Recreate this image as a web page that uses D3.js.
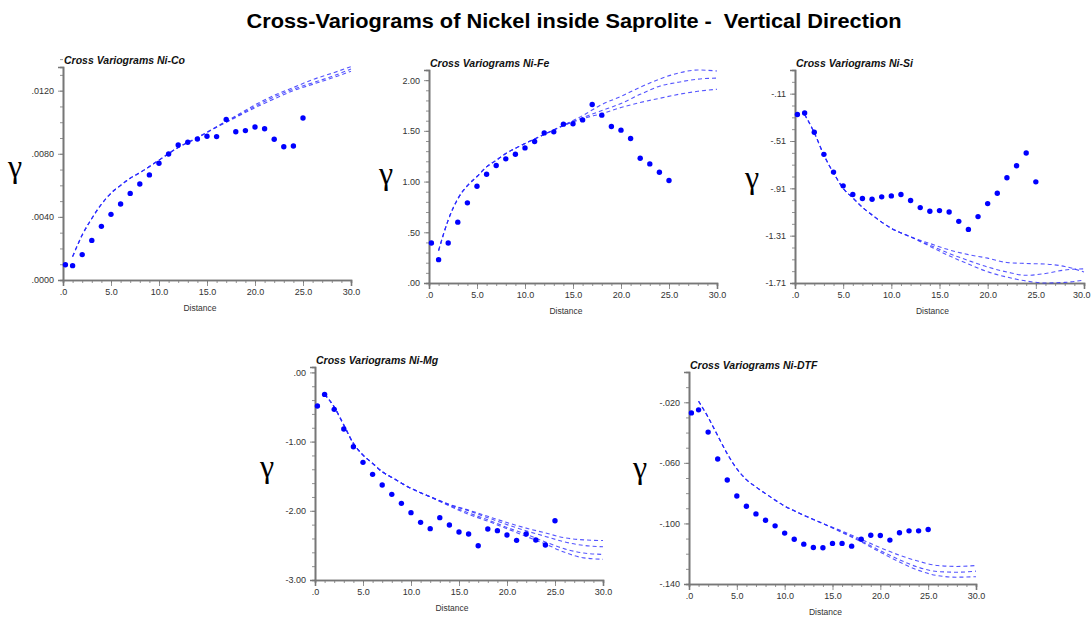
<!DOCTYPE html>
<html>
<head>
<meta charset="utf-8">
<script src="https://cdn.jsdelivr.net/npm/d3@7"></script>
<style>
  body { margin: 0; background: #fff; }
  svg { display: block; }
  text { font-family: "Liberation Sans", Arial, sans-serif; }
</style>
</head>
<body>
<script>
// lag distances of the experimental points (same for every panel)
var lags = [0.25, 1, 2, 3, 4, 5, 6, 7, 8, 9, 10, 11, 12, 13, 14, 15, 16, 17, 18, 19, 20, 21, 22, 23, 24, 25];

// experimental cross variogram values
var coPts = [.00097, .00091, .00161, .00251, .0034, .00416, .00482, .00549, .00608, .00666, .0074, .00799, .00856, .00873, .00894, .00911, .00909, .01018, .0094, .00947, .0097, .00959, .00892, .00845, .00849, .01027];
var fePts = [.395, .23, .395, .60, .79, .954, 1.072, 1.158, 1.224, 1.27, 1.332, 1.395, 1.48, 1.49, 1.566, 1.57, 1.608, 1.76, 1.655, 1.543, 1.507, 1.424, 1.23, 1.174, 1.092, 1.01];
var siPts = [-.286, -.274, -.436, -.623, -.773, -.889, -.962, -.996, -1.002, -.982, -.974, -.962, -1.013, -1.073, -1.104, -1.098, -1.11, -1.189, -1.257, -1.149, -1.039, -.951, -.821, -.719, -.611, -.855];
var mgPts = [-.486, -.318, -.534, -.818, -1.074, -1.30, -1.473, -1.627, -1.762, -1.892, -2.027, -2.167, -2.258, -2.099, -2.205, -2.306, -2.335, -2.504, -2.263, -2.287, -2.35, -2.427, -2.335, -2.422, -2.494, -2.143];
var dtfPts = [-.0270, -.0250, -.0397, -.0575, -.0713, -.0819, -.0887, -.0937, -.0979, -.1016, -.1064, -.1104, -.1137, -.1159, -.1161, -.1132, -.1132, -.115, -.1104, -.1078, -.108, -.111, -.1062, -.1049, -.1049, -.104];

// distances at which the model curves were read
var modelX = [1, 2, 3, 4, 5, 6, 7, 8, 10, 12, 14, 16, 18, 20, 22, 24, 26, 28, 30];

var coModels = [
  [.00148, .00285, .0039, .0048, .0055, .0060, .00645, .0068, .0076, .0084, .00904, .00972, .0104, .0111, .0117, .0122, .0127, .0131, .01352],
  [.00148, .00285, .0039, .0048, .0055, .0060, .00645, .0068, .0076, .0084, .00902, .0097, .01035, .0110, .0116, .0121, .0125, .0129, .01338],
  [.00148, .00285, .0039, .0048, .0055, .0060, .00645, .0068, .0076, .0084, .00900, .00968, .0103, .01092, .01148, .0120, .0124, .0128, .01323]
];
var feModels = [
  [.32, .62, .83, .96, 1.05, 1.145, 1.21, 1.276, 1.375, 1.464, 1.556, 1.65, 1.76, 1.84, 1.93, 2.01, 2.07, 2.10, 2.09],
  [.32, .62, .83, .96, 1.05, 1.145, 1.21, 1.276, 1.375, 1.464, 1.553, 1.63, 1.70, 1.77, 1.86, 1.94, 1.98, 2.01, 2.02],
  [.32, .62, .83, .96, 1.05, 1.145, 1.21, 1.276, 1.375, 1.464, 1.55, 1.62, 1.67, 1.73, 1.78, 1.82, 1.86, 1.89, 1.91]
];
var siModels = [
  [-.286, -.44, -.63, -.78, -.91, -.99, -1.07, -1.135, -1.248, -1.32, -1.376, -1.43, -1.47, -1.50, -1.537, -1.545, -1.55, -1.57, -1.617],
  [-.286, -.44, -.63, -.78, -.91, -.99, -1.07, -1.135, -1.248, -1.32, -1.39, -1.46, -1.52, -1.575, -1.617, -1.645, -1.63, -1.60, -1.59],
  [-.286, -.44, -.63, -.78, -.91, -.99, -1.07, -1.135, -1.248, -1.32, -1.40, -1.48, -1.55, -1.615, -1.66, -1.693, -1.71, -1.705, -1.685]
];
var mgModels = [
  [-.318, -.50, -.76, -1.026, -1.194, -1.314, -1.435, -1.517, -1.676, -1.796, -1.907, -1.99, -2.08, -2.17, -2.25, -2.32, -2.39, -2.42, -2.43],
  [-.318, -.50, -.76, -1.026, -1.194, -1.314, -1.435, -1.517, -1.676, -1.796, -1.91, -2.00, -2.10, -2.20, -2.29, -2.37, -2.45, -2.50, -2.52],
  [-.318, -.50, -.76, -1.026, -1.194, -1.314, -1.435, -1.517, -1.676, -1.80, -1.92, -2.03, -2.13, -2.24, -2.34, -2.45, -2.55, -2.61, -2.63],
  [-.318, -.50, -.76, -1.026, -1.194, -1.314, -1.435, -1.517, -1.676, -1.80, -1.93, -2.05, -2.15, -2.26, -2.37, -2.48, -2.60, -2.68, -2.70]
];
var dtfModels = [
  [-.0193, -.0299, -.042, -.054, -.0639, -.0711, -.0759, -.0803, -.0885, -.0946, -.1001, -.1050, -.1105, -.1160, -.1210, -.1250, -.1278, -.1284, -.1278],
  [-.0193, -.0299, -.042, -.054, -.0639, -.0711, -.0759, -.0803, -.0885, -.0946, -.1001, -.1056, -.1115, -.1180, -.1240, -.1290, -.1318, -.1322, -.1315],
  [-.0193, -.0299, -.042, -.054, -.0639, -.0711, -.0759, -.0803, -.0885, -.0946, -.1001, -.1060, -.1122, -.1190, -.1255, -.1310, -.1345, -.1355, -.1352]
];

// axis ticks
var xTicks = [0, 5, 10, 15, 20, 25, 30];
var coTicks = [0, .004, .008, .012];
var feTicks = [0, .5, 1, 1.5, 2];
var siTicks = [-1.71, -1.31, -.91, -.51, -.11];
var mgTicks = [-3, -2, -1, 0];
var dtfTicks = [-.14, -.10, -.06, -.02];

var titles = ["Cross Variograms Ni-Co", "Cross Variograms Ni-Fe", "Cross Variograms Ni-Si", "Cross Variograms Ni-Mg", "Cross Variograms Ni-DTF"];

var W = 1091, H = 618;

var svg = d3.select("body").append("svg")
  .attr("width", W)
  .attr("height", H);

svg.append("text")
  .attr("x", 574)
  .attr("y", 28)
  .attr("text-anchor", "middle")
  .attr("font-size", "20px")
  .attr("font-weight", "bold")
  .attr("textLength", 655)
  .attr("lengthAdjust", "spacingAndGlyphs")
  .style("white-space", "pre")
  .attr("fill", "#000")
  .text("Cross-Variograms of Nickel inside Saprolite -  Vertical Direction");

// strip leading zero: 0.50 -> .50, -0.11 -> -.11
function fmt(dec){
  return function(d){
    var s = Math.abs(d).toFixed(dec).replace(/^0/, "");
    return (d < 0 ? "-" : "") + s;
  };
}

var panels = [
  {title: titles[0], pts: coPts, models: coModels, ticks: coTicks, minor: .001, dec: 4,
   x0: 63, x1: 351, yb: 280, yt: 67, dom: [0, .0135], gx: 15, gy: 177},
  {title: titles[1], pts: fePts, models: feModels, ticks: feTicks, minor: .1, dec: 2,
   x0: 429, x1: 717, yb: 283, yt: 70, dom: [0, 2.1], gx: 386, gy: 184},
  {title: titles[2], pts: siPts, models: siModels, ticks: siTicks, minor: .1, dec: 2,
   x0: 795, x1: 1084, yb: 283, yt: 70, dom: [-1.71, .09], gx: 752, gy: 188},
  {title: titles[3], pts: mgPts, models: mgModels, ticks: mgTicks, minor: .2, dec: 2,
   x0: 315, x1: 603, yb: 580, yt: 367, dom: [-3, .078], gx: 267, gy: 477},
  {title: titles[4], pts: dtfPts, models: dtfModels, ticks: dtfTicks, minor: .01, dec: 3,
   x0: 689, x1: 976, yb: 584, yt: 372, dom: [-.14, 0], gx: 640, gy: 478}
];

var axisCol = "#777";

panels.forEach(function(p){

  var x = d3.scaleLinear().domain([0, 30]).range([p.x0, p.x1]);
  var y = d3.scaleLinear().domain(p.dom).range([p.yb, p.yt]);

  var g = svg.append("g").attr("class", "panel");

  // minor tick values
  var nMinor = Math.round((p.dom[1] - p.dom[0]) / p.minor + 1e-6);
  var yMinor = d3.range(nMinor + 1).map(function(i){ return p.dom[0] + i * p.minor; });
  var xMinor = d3.range(31);

  var yMinorAxis = d3.axisLeft(y).tickValues(yMinor).tickSize(3).tickFormat("");
  var yAxis = d3.axisLeft(y).tickValues(p.ticks).tickSize(5).tickPadding(4).tickFormat(fmt(p.dec));
  var xMinorAxis = d3.axisBottom(x).tickValues(xMinor).tickSize(3).tickFormat("");
  var xAxis = d3.axisBottom(x).tickValues(xTicks).tickSize(6).tickPadding(3)
    .tickFormat(function(d){ return d === 0 ? ".0" : d.toFixed(1); });

  [[yMinorAxis, "translate(" + p.x0 + ",0)"], [yAxis, "translate(" + p.x0 + ",0)"],
   [xMinorAxis, "translate(0," + p.yb + ")"], [xAxis, "translate(0," + p.yb + ")"]].forEach(function(a){
    var ag = g.append("g").attr("transform", a[1]).call(a[0]);
    ag.select(".domain").attr("stroke", axisCol).attr("stroke-width", 1.6);
    ag.selectAll(".tick line").attr("stroke", axisCol).attr("stroke-width", 0.8);
    ag.selectAll(".tick text")
      .attr("fill", "#333")
      .style("font-family", "'Liberation Sans', Arial, sans-serif")
      .style("font-size", "9px");
  });

  // keep the last x label inside the picture
  g.selectAll(".tick text")
    .filter(function(d){ return d === 30 && x(30) + 10 > W; })
    .attr("text-anchor", "end")
    .attr("dx", W - 1 - x(30));

  // panel title
  g.append("text")
    .attr("x", p.x0 + 1)
    .attr("y", p.yt - 3)
    .attr("font-size", "10.5px")
    .attr("font-weight", "bold")
    .attr("font-style", "italic")
    .attr("fill", "#111")
    .text(p.title);

  // axis labels
  g.append("text")
    .attr("x", (p.x0 + p.x1) / 2 - 7)
    .attr("y", p.yb + 31)
    .attr("text-anchor", "middle")
    .attr("font-size", "8.5px")
    .attr("fill", "#333")
    .text("Distance");

  g.append("text")
    .attr("x", p.gx)
    .attr("y", p.gy)
    .attr("text-anchor", "middle")
    .attr("font-size", "32px")
    .style("font-family", "'Liberation Serif', 'DejaVu Serif', serif")
    .attr("fill", "#000")
    .text("\u03b3");

  // model curves
  var line = d3.line()
    .x(function(d){ return x(d[0]); })
    .y(function(d){ return y(d[1]); })
    .curve(d3.curveMonotoneX);

  g.selectAll(".model")
    .data(p.models)
    .enter()
    .append("path")
    .attr("class", "model")
    .attr("d", function(m){
      return line(modelX.map(function(v, i){ return [v, m[i]]; }));
    })
    .attr("fill", "none")
    .attr("stroke", "#2a2aff")
    .attr("stroke-width", 1.1)
    .attr("stroke-dasharray", "4,3")
    .attr("opacity", 0.8);

  // experimental points
  g.selectAll(".pt")
    .data(p.pts)
    .enter()
    .append("circle")
    .attr("class", "pt")
    .attr("cx", function(d, i){ return x(lags[i]); })
    .attr("cy", function(d){ return y(d); })
    .attr("r", 2.7)
    .attr("fill", "#0000ff");
});
</script>
</body>
</html>
